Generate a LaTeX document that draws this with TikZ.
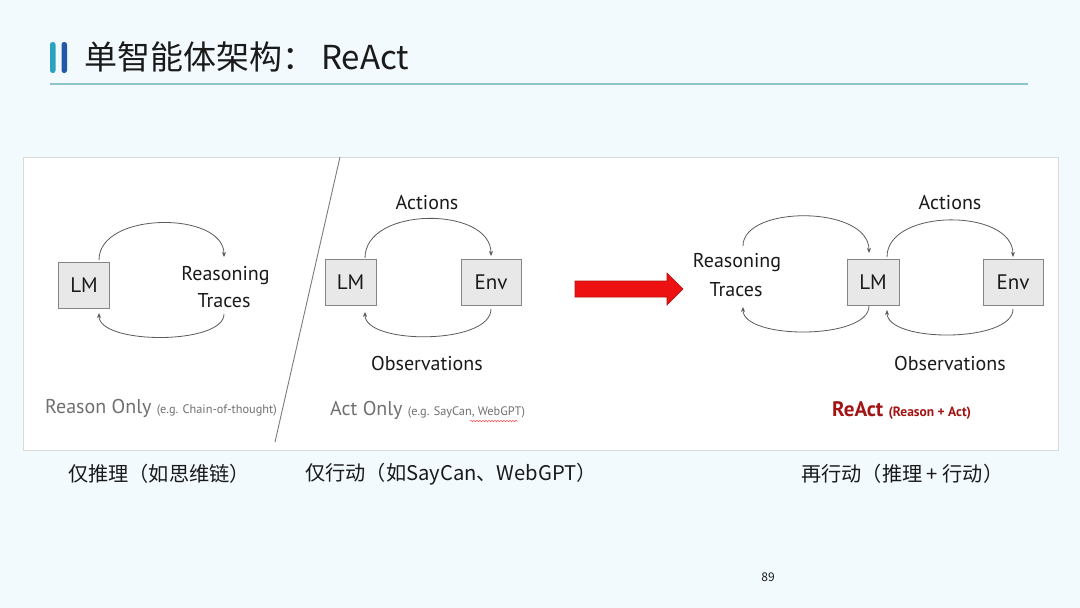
\documentclass[tikz,border=0pt]{standalone}
\usepackage{fontspec}
\setmainfont{PT Sans}
\newfontfamily\cjk{Noto Sans CJK SC}
\usetikzlibrary{arrows.meta,decorations.pathmorphing}
\definecolor{bgc}{HTML}{F3FAFD}
\definecolor{panelb}{HTML}{DADADA}
\definecolor{ulc}{HTML}{8CC6CC}
\definecolor{barA}{HTML}{2BA3BE}
\definecolor{barB}{HTML}{2159A6}
\definecolor{boxf}{HTML}{E8E8E8}
\definecolor{boxd}{HTML}{858585}
\definecolor{arcc}{HTML}{5A5A5A}
\definecolor{redA}{HTML}{EE1111}
\definecolor{redB}{HTML}{B01010}
\definecolor{reactc}{HTML}{A31515}
\definecolor{grayt}{HTML}{707070}
\definecolor{txt}{HTML}{1A1A1A}
\tikzset{
  box/.style={draw=boxd, fill=boxf, line width=0.9pt, minimum height=46pt, inner sep=0pt, font=\fontsize{21}{23}\selectfont, text=txt},
  arcarrow/.style={draw=arcc, line width=0.8pt, -{Stealth[length=5pt,width=4pt]}},
  lbl/.style={font=\fontsize{20}{22}\selectfont, text=txt, inner sep=0pt, anchor=base},
  captxt/.style={font=\cjk\fontsize{20.2}{22}\selectfont, text=txt, inner sep=0pt, anchor=west},
}
\begin{document}
\begin{tikzpicture}[x=1pt,y=-1pt]
\useasboundingbox (0,0) rectangle (1080,608);
\fill[bgc] (0,0) rectangle (1080,608);
% header
\fill[barA, rounded corners=2.5pt] (50,42) rectangle (55.5,73);
\fill[barB, rounded corners=2.5pt] (61.5,42) rectangle (67,73);
\node[font=\cjk\fontsize{33}{36}\selectfont, text=txt, inner sep=0pt, anchor=west] (title) at (84,57) {单智能体架构：\hspace{6pt}ReAct};
\draw[ulc, line width=1.3pt] (50,84) -- (1028,84);
% panel
\draw[panelb, fill=white, line width=1pt] (23,157) rectangle (1058,450);
\draw[arcc!80, line width=0.9pt] (340,157) -- (275,442);
% ---- Reason only
\node[box, minimum width=51pt] (lm1) at (84,285.5) {LM};
\node[lbl] (rt1a) at (225.5,280) {Reasoning};
\node[lbl] (rt1b) at (224,307) {Traces};
\coordinate (l1s) at (99,260);
\coordinate (l1e) at (224,257);
\coordinate (l2s) at (224,314);
\coordinate (l2e) at (99,313);
\draw[arcarrow] (l1s) .. controls (99,211) and (224,211) .. (l1e);
\draw[arcarrow] (l2s) .. controls (224,345) and (99,345) .. (l2e);
\node[inner sep=0pt, anchor=base west, text=grayt] (ro) at (45,413)
  {\fontsize{20}{22}\selectfont Reason Only \fontsize{12.3}{15}\selectfont(e.g. Chain-of-thought)};
% ---- Act only
\node[box, minimum width=51pt] (lm2) at (350.5,282) {LM};
\node[box, minimum width=60pt] (env2) at (491,282) {Env};
\node[lbl] (act2) at (427,209) {Actions};
\node[lbl] (obs2) at (427,370) {Observations};
\coordinate (m1s) at (365,258);
\coordinate (m1e) at (491,256);
\coordinate (m2s) at (491,309);
\coordinate (m2e) at (365,312);
\draw[arcarrow] (m1s) .. controls (365,206) and (491,206) .. (m1e);
\draw[arcarrow] (m2s) .. controls (491,345) and (365,345) .. (m2e);
\node[inner sep=0pt, anchor=base west, text=grayt] (ao) at (330,415)
  {\fontsize{20}{22}\selectfont Act Only \fontsize{12.3}{15}\selectfont(e.g. SayCan, WebGPT)};
\coordinate (sq1) at (470,421);
\coordinate (sq2) at (518,421);
\draw[red!70, line width=0.5pt, decorate, decoration={snake, amplitude=0.7pt, segment length=3pt}] (sq1) -- (sq2);
% ---- big red arrow
\draw[redB, fill=redA, line width=0.6pt] (575,281) -- (667,281) -- (667,273) -- (683,289) -- (667,305) -- (667,297) -- (575,297) -- cycle;
% ---- ReAct
\node[box, minimum width=52pt] (lm3) at (873,282) {LM};
\node[box, minimum width=60pt] (env3) at (1013,282) {Env};
\node[lbl] (rt3a) at (737,267) {Reasoning};
\node[lbl] (rt3b) at (736,296) {Traces};
\node[lbl] (act3) at (950,209) {Actions};
\node[lbl] (obs3) at (950,370) {Observations};
\coordinate (r1s) at (743,246);
\coordinate (r1e) at (869,253);
\coordinate (r2s) at (869,306);
\coordinate (r2e) at (743,307);
\coordinate (r3s) at (887,257);
\coordinate (r3e) at (1013,257);
\coordinate (r4s) at (1013,309);
\coordinate (r4e) at (887,310);
\draw[arcarrow] (r1s) .. controls (743,205) and (869,205) .. (r1e);
\draw[arcarrow] (r2s) .. controls (869,340) and (743,340) .. (r2e);
\draw[arcarrow] (r3s) .. controls (887,208) and (1013,208) .. (r3e);
\draw[arcarrow] (r4s) .. controls (1013,343) and (887,343) .. (r4e);
\node[inner sep=0pt, anchor=base west, text=reactc] (ra) at (832,416)
  {\bfseries\fontsize{21}{23}\selectfont ReAct \fontsize{13.5}{15}\selectfont(Reason + Act)};
% captions
\node[captxt] (c1) at (68,474) {仅推理（如思维链）};
\node[captxt] (c2) at (305,474) {仅行动（如SayCan、WebGPT）};
\node[captxt] (c3) at (801,474) {再行动（推理 + 行动）};
\node[font=\cjk\fontsize{12}{14}\selectfont, text=txt, inner sep=0pt] (pg) at (768,577) {89};
\end{tikzpicture}
\end{document}
